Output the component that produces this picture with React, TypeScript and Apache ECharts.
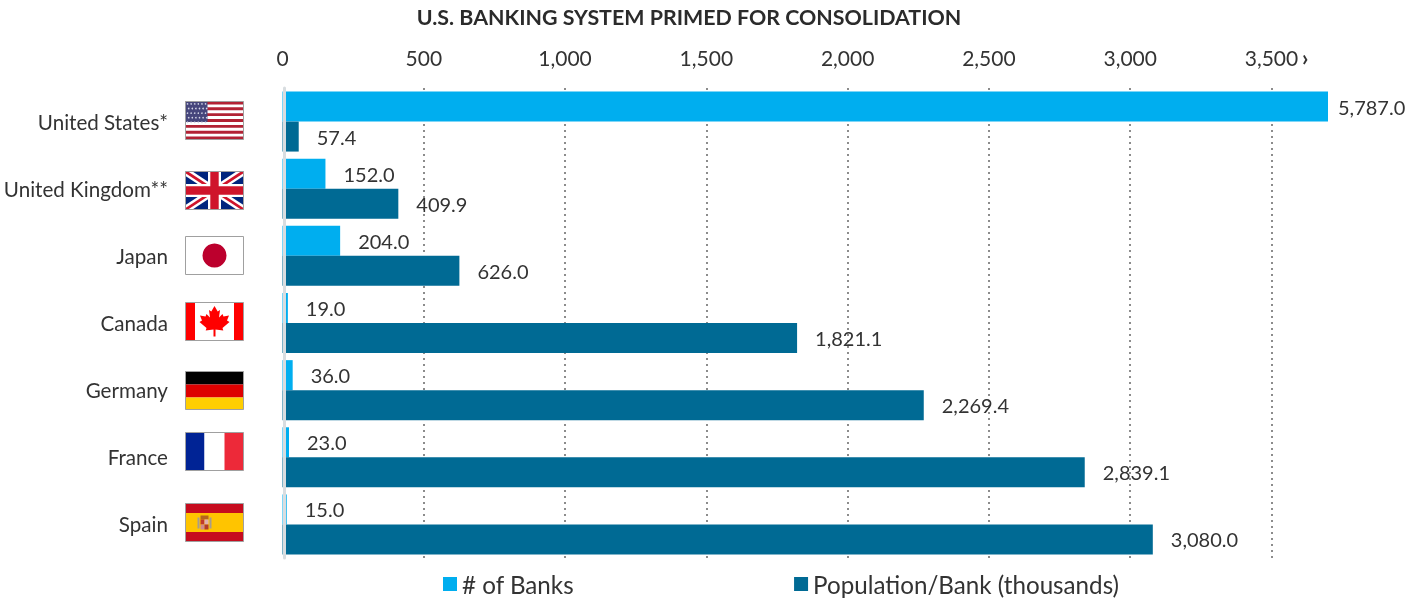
import React, { useEffect, useRef } from "react";
import * as echarts from "echarts";

const titleText = "U.S. BANKING SYSTEM PRIMED FOR CONSOLIDATION";
const categories = ["United States*", "United Kingdom**", "Japan", "Canada", "Germany", "France", "Spain"];
const banks = [5787.0, 152.0, 204.0, 19.0, 36.0, 23.0, 15.0];
const popPerBank = [57.4, 409.9, 626.0, 1821.1, 2269.4, 2839.1, 3080.0];
const seriesNames = ["# of Banks", "Population/Bank (thousands)"];
const flagTops = [101, 171, 236, 302, 371, 432, 503];

const FONT = "Lato";
const INK = "#333333";
const LIGHT = "#00aeef";
const DARK = "#006a94";
const FW = 58;
const FH = 38;

const rect = (x: number, y: number, width: number, height: number, fill: string) => ({
  type: "rect", shape: { x, y, width, height }, style: { fill },
});
const poly = (points: number[][], fill: string) => ({ type: "polygon", shape: { points }, style: { fill } });
const border = () => ({
  type: "rect", shape: { x: 0, y: 0, width: FW, height: FH },
  style: { fill: "none", stroke: "#a0a0a0", lineWidth: 1 },
});

function usFlag() {
  const out: any[] = [rect(0, 0, FW, FH, "#ffffff")];
  const h = FH / 13;
  for (let i = 0; i < 13; i += 2) out.push(rect(0, i * h, FW, h, "#b22234"));
  out.push(rect(0, 0, 22, h * 7, "#46467c"));
  for (let r = 0; r < 5; r++)
    for (let c = 0; c < 6; c++)
      out.push({ type: "circle", shape: { cx: 2 + c * 3.6 + (r % 2) * 1.2, cy: 2.4 + r * 4.6, r: 0.8 }, style: { fill: "#d5d7e8" } });
  return out;
}
function ukFlag() {
  const W = FW, H = FH;
  const diag = (t: number, fill: string) => [
    poly([[0, 0], [t, 0], [W, H - t * 0.65], [W, H], [W - t, H], [0, t * 0.65]], fill),
    poly([[W, 0], [W, t * 0.65], [t, H], [0, H], [0, H - t * 0.65], [W - t, 0]], fill),
  ];
  return [
    rect(0, 0, W, H, "#00247d"),
    ...diag(7, "#ffffff"),
    ...diag(2.5, "#cf142b"),
    rect(W / 2 - 6.5, 0, 13, H, "#ffffff"),
    rect(0, H / 2 - 6.5, W, 13, "#ffffff"),
    rect(W / 2 - 4.2, 0, 8.4, H, "#cf142b"),
    rect(0, H / 2 - 4.2, W, 8.4, "#cf142b"),
  ];
}
function jpFlag() {
  return [
    rect(0, 0, FW, FH, "#ffffff"),
    { type: "circle", shape: { cx: FW / 2, cy: FH / 2, r: 12 }, style: { fill: "#bc002d" } },
  ];
}
function caFlag() {
  const half = [[0, -15], [3.2, -9.5], [5.5, -11], [4.5, -3.5], [8, -7], [9, -4.5], [14.5, -5.5], [12.5, -0.5], [15, 1], [8, 7], [8.8, 9.5], [1, 8.5], [1, 15.5]];
  const pts = [...half, ...half.slice().reverse().map(([x, y]) => [-x, y])].map(([x, y]) => [FW / 2 + x, FH / 2 - 0.5 + y]);
  return [
    rect(0, 0, FW, FH, "#ffffff"),
    rect(0, 0, 9.5, FH, "#ff0000"),
    rect(FW - 9.5, 0, 9.5, FH, "#ff0000"),
    poly(pts, "#ff0000"),
  ];
}
function deFlag() {
  return [rect(0, 0, FW, 13, "#000000"), rect(0, 13, FW, 13, "#dd0000"), rect(0, 26, FW, 12, "#ffce00")];
}
function frFlag() {
  return [rect(0, 0, 19, FH, "#002395"), rect(19, 0, 20, FH, "#ffffff"), rect(39, 0, 19, FH, "#ed2939")];
}
function esFlag() {
  return [
    rect(0, 0, FW, FH, "#c60b1e"),
    rect(0, 9.5, FW, 19, "#ffc400"),
    rect(12, 14, 2, 11, "#a89c8c"),
    rect(24, 14, 2, 11, "#a89c8c"),
    rect(15, 12, 8, 4, "#b5651d"),
    rect(15, 16, 4, 5, "#c0392b"),
    rect(19, 16, 4, 5, "#e0b0b0"),
    rect(15, 21, 4, 5, "#d08a8a"),
    rect(19, 21, 4, 5, "#b03a2e"),
  ];
}
const flagBuilders = [usFlag, ukFlag, jpFlag, caFlag, deFlag, frFlag, esFlag];

const fmt = (v: number) => v.toLocaleString("en-US", { minimumFractionDigits: 1, maximumFractionDigits: 1 });

export default function App() {
  const ref = useRef<HTMLDivElement>(null);
  useEffect(() => {
    document.body.style.margin = "0";
    const chart = echarts.init(ref.current!, null, { renderer: "svg" });
    const labelBase = { show: true, position: "right", fontFamily: FONT, fontSize: 20, color: INK, distance: 18, formatter: (p: any) => fmt(p.value) };
    chart.setOption({
      animation: false,
      title: {
        text: titleText, left: 684, top: 1, textAlign: "center",
        textStyle: { fontFamily: FONT, fontWeight: "bold", fontSize: 21.4, color: "#2b2b2b" },
      },
      grid: { left: 282.5, top: 88, right: 80, bottom: 41 },
      legend: {
        left: 438, top: 567, itemWidth: 14, itemHeight: 14, itemGap: 220, icon: "rect",
        data: seriesNames,
        textStyle: { fontFamily: FONT, fontSize: 24.2, color: INK },
      },
      xAxis: {
        type: "value", position: "top", min: 0, max: 3700, interval: 500,
        axisLine: { show: false }, axisTick: { show: false },
        axisLabel: {
          fontFamily: FONT, fontSize: 21, color: INK, margin: 20,
          formatter: (v: number) => (v % 500 === 0 ? v.toLocaleString("en-US") : ""),
        },
        splitLine: { show: true, showMinLine: false, showMaxLine: false, lineStyle: { color: "#8c8c8c", width: 2, type: [2, 4] } },
      },
      yAxis: {
        type: "category", inverse: true, data: categories, z: 10, offset: -1.5,
        axisLine: { show: true, lineStyle: { color: "#d8dde0", width: 3 } },
        axisTick: { show: false },
        axisLabel: { fontFamily: FONT, fontSize: 20.6, color: INK, margin: 116 },
      },
      series: [
        {
          name: seriesNames[0], type: "bar", barWidth: 30, barGap: 0, itemStyle: { color: LIGHT },
          label: labelBase,
          data: banks.map((value, i) => (i === 0 ? { value, label: { distance: 10 } } : value)),
        },
        {
          name: seriesNames[1], type: "bar", barWidth: 30, barGap: 0, itemStyle: { color: DARK },
          label: labelBase, data: popPerBank,
        },
      ],
      graphic: [
        { type: "text", x: 1302, y: 46, style: { text: "›", font: `bold 22px ${FONT}`, fill: INK } },
        ...flagBuilders.map((b, i) => ({
          type: "group", x: 185.5, y: flagTops[i] + 0.5,
          children: [...b(), border()],
        })),
      ],
    });
    return () => chart.dispose();
  }, []);
  return <div ref={ref} style={{ position: "fixed", left: 0, top: 0, width: 1408, height: 599 }} />;
}
